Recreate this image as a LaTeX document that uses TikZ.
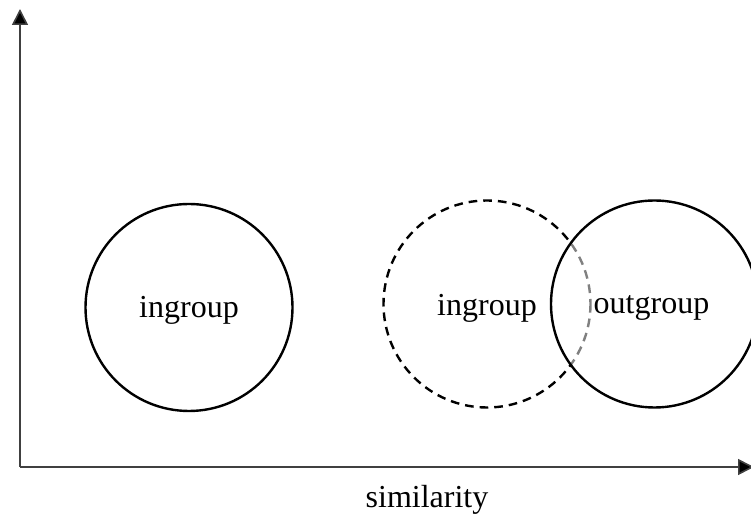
\documentclass[tikz,border=0pt]{standalone}
\usepackage{fontspec}
\setmainfont{Liberation Serif}
\usetikzlibrary{arrows.meta}
\begin{document}
\begin{tikzpicture}[x=0.75pt,y=-0.75pt,
  axis/.style={line width=1.2pt,draw=black!75,-{Triangle[width=12pt,length=12pt,fill=black]}},
  group/.style={circle,minimum size=207*0.75pt,inner sep=0pt,line width=1.8pt},
  dashgroup/.style={line width=1.8pt,dash pattern=on 6.5pt off 4.5pt},
  label/.style={font=\fontsize{24}{28}\selectfont}]
  \useasboundingbox (0,0) rectangle (751,516);
  % axes
  \coordinate (origin) at (20,467);
  \coordinate (ytop) at (20,9);
  \coordinate (xend) at (754,467);
  \draw[axis] (origin) -- (ytop);
  \draw[axis] (origin) -- (xend);
  \node[label] (xlabel) at (427,500) {similarity};
  % left ingroup
  \node[group,draw] (in1) at (189,307.5) {};
  \node[label] at (189,310) {ingroup};
  % dashed ingroup
  \coordinate (c2) at (487,304);
  \draw[dashgroup] (c2) circle[radius=103.5];
  % outgroup, covering the dashed outline where they overlap
  \node[group,fill=white] (out) at (654.5,304) {};
  \begin{scope}
    \clip (out.center) circle[radius=103.5];
    \draw[dashgroup,black!50] (c2) circle[radius=103.5];
  \end{scope}
  \node[group,draw] at (out.center) {};
  \node[label] at (487,308) {ingroup};
  \node[label] at (651.5,308) {outgroup};
\end{tikzpicture}
\end{document}
